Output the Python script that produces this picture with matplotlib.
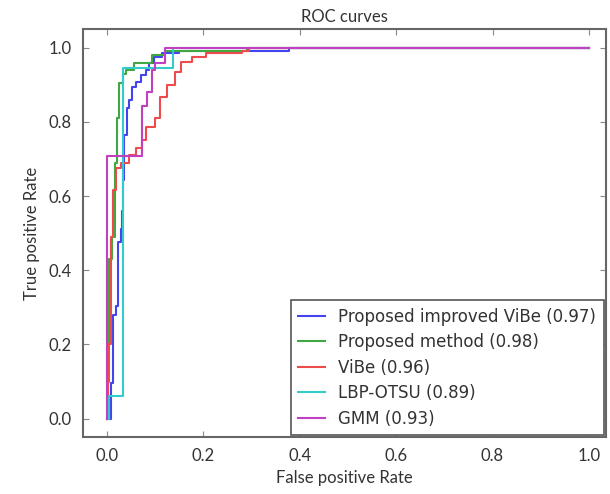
import matplotlib
matplotlib.use('Agg')
import matplotlib.pyplot as plt

# ROC step points (fpr, tpr), drawn with steps-post
improved_fpr = [0.0, 0.008, 0.012, 0.019, 0.023, 0.029, 0.031, 0.033, 0.035, 0.042, 0.046, 0.052,
                0.060, 0.070, 0.081, 0.087, 0.098, 0.114, 0.150, 0.378, 1.0]
improved_tpr = [0.0, 0.095, 0.28, 0.305, 0.476, 0.51, 0.56, 0.643, 0.765, 0.838, 0.86, 0.895,
                0.908, 0.927, 0.94, 0.96, 0.976, 0.986, 0.992, 1.0, 1.0]

proposed_fpr = [0.0, 0.005, 0.010, 0.017, 0.021, 0.025, 0.033, 0.040, 0.056, 0.094, 0.120, 0.290, 1.0]
proposed_tpr = [0.10, 0.43, 0.49, 0.69, 0.81, 0.905, 0.93, 0.94, 0.96, 0.98, 0.99, 1.0, 1.0]

vibe_fpr = [0.0, 0.003, 0.008, 0.012, 0.019, 0.029, 0.045, 0.060, 0.073, 0.081, 0.100, 0.110,
            0.125, 0.140, 0.154, 0.177, 0.205, 0.280, 0.295, 1.0]
vibe_tpr = [0.0, 0.20, 0.49, 0.616, 0.675, 0.69, 0.71, 0.73, 0.75, 0.786, 0.81, 0.868,
            0.90, 0.935, 0.962, 0.976, 0.986, 0.99, 1.0, 1.0]

lbp_fpr = [0.0, 0.005, 0.033, 0.137, 1.0]
lbp_tpr = [0.0, 0.06, 0.946, 1.0, 1.0]

gmm_fpr = [0.0, 0.0, 0.073, 0.083, 0.094, 0.100, 0.120, 1.0]
gmm_tpr = [0.0, 0.708, 0.843, 0.88, 0.94, 0.96, 1.0, 1.0]

labels = ['Proposed improved ViBe (0.97)', 'Proposed method (0.98)', 'ViBe (0.96)',
          'LBP-OTSU (0.89)', 'GMM (0.93)']
colors = ['#4444ee', '#40a840', '#ee4c4c', '#33cccc', '#c040c0']

lab_font = 'Lato'

fig = plt.figure(figsize=(6.1, 4.94), dpi=100)
ax = fig.add_axes([0.136, 0.115, 0.857, 0.826])

series = [(improved_fpr, improved_tpr), (proposed_fpr, proposed_tpr), (vibe_fpr, vibe_tpr),
          (lbp_fpr, lbp_tpr), (gmm_fpr, gmm_tpr)]
for (fx, ty), lab, col in zip(series, labels, colors):
    ax.plot(fx, ty, drawstyle='steps-post', color=col, lw=1.5, label=lab)

ax.set_xlim(-0.05, 1.035)
ax.set_ylim(-0.05, 1.05)
ax.set_xticks([0.0, 0.2, 0.4, 0.6, 0.8, 1.0])
ax.set_yticks([0.0, 0.2, 0.4, 0.6, 0.8, 1.0])
ax.set_xticklabels(['0.0', '0.2', '0.4', '0.6', '0.8', '1.0'], family=lab_font, fontsize=12, color='#333333')
ax.set_yticklabels(['0.0', '0.2', '0.4', '0.6', '0.8', '1.0'], family=lab_font, fontsize=12, color='#333333')
ax.tick_params(direction='in', top=True, right=True, length=4, color='#888888', pad=8)
for s in ax.spines.values():
    s.set_color('#666666')
    s.set_linewidth(1.5)

ax.set_xlabel('False positive Rate', family=lab_font, fontsize=12, color='#333333', labelpad=4)
ax.set_ylabel('True positive Rate', family=lab_font, fontsize=12, color='#333333', labelpad=6)
ax.set_title('ROC curves', family=lab_font, fontsize=12, color='#333333', pad=5)

leg = ax.legend(loc='lower right', fontsize=12, fancybox=False, framealpha=1,
                edgecolor='#555555', handlelength=1.6, borderaxespad=0.12,
                labelspacing=0.45, borderpad=0.45)
leg.get_frame().set_linewidth(1.2)
for t in leg.get_texts():
    t.set_color('#333333')

fig.savefig('out.png', dpi=100)
